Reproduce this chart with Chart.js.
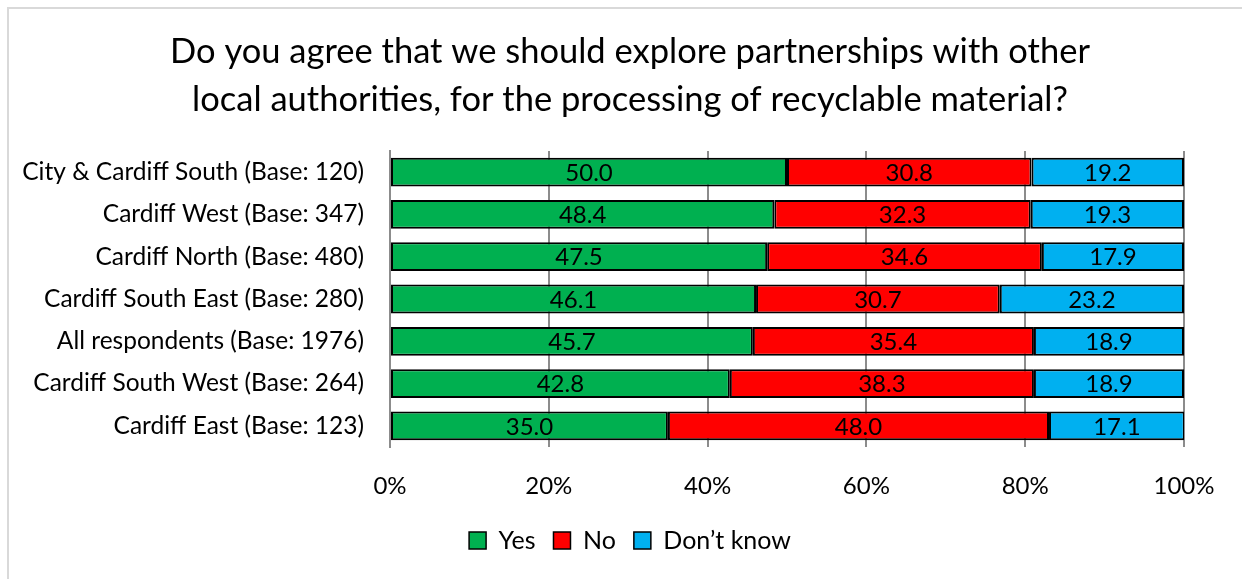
<!DOCTYPE html>
<html>
<head>
<meta charset="utf-8">
<script src="https://cdn.jsdelivr.net/npm/chart.js@4"></script>
<style>
    html, body { margin: 0; padding: 0; background: #fff; }
    #wrap { position: relative; width: 1242px; height: 579px; }
    #frame { position: absolute; left: 7px; top: 7px; right: -10px; bottom: -10px;
             border-left: 2px solid #d9d9d9; border-top: 2px solid #d9d9d9; }
    canvas { position: absolute; left: 0; top: 0; }
</style>
</head>
<body>
<div id="wrap">
    <div id="frame"></div>
    <canvas id="chart" width="1242" height="579"></canvas>
</div>
<script>
// 데이터
const categories = [
    'City & Cardiff South (Base: 120)',
    'Cardiff West (Base: 347)',
    'Cardiff North (Base: 480)',
    'Cardiff South East (Base: 280)',
    'All respondents (Base: 1976)',
    'Cardiff South West (Base: 264)',
    'Cardiff East (Base: 123)'
];
const yesValues = [50.0, 48.4, 47.5, 46.1, 45.7, 42.8, 35.0];
const noValues = [30.8, 32.3, 34.6, 30.7, 35.4, 38.3, 48.0];
const dontKnowValues = [19.2, 19.3, 17.9, 23.2, 18.9, 18.9, 17.1];
const seriesNames = ['Yes', 'No', 'Don\u2019t know'];
const xTicks = [0, 20, 40, 60, 80, 100];

const FONT = 'Lato, "Open Sans", sans-serif';

// 막대 안 값 표시
const barLabels = {
    id: 'barLabels',
    afterDatasetsDraw(chart) {
        const ctx = chart.ctx;
        ctx.save();
        ctx.font = '24px ' + FONT;
        ctx.fillStyle = '#000';
        ctx.textAlign = 'center';
        ctx.textBaseline = 'middle';
        chart.data.datasets.forEach((ds, i) => {
            chart.getDatasetMeta(i).data.forEach((bar, j) => {
                const cx = (bar.x + bar.base) / 2;
                ctx.fillText(ds.data[j].toFixed(1), cx, bar.y + 1);
            });
        });
        ctx.restore();
    }
};

new Chart(document.getElementById('chart').getContext('2d'), {
    type: 'bar',
    data: {
        labels: categories,
        datasets: [
            { label: seriesNames[0], data: yesValues, backgroundColor: '#00b050' },
            { label: seriesNames[1], data: noValues, backgroundColor: '#ff0000' },
            { label: seriesNames[2], data: dontKnowValues, backgroundColor: '#00b0f0' }
        ].map(d => Object.assign(d, {
            borderColor: '#000',
            borderWidth: 2,
            borderSkipped: false,
            barPercentage: 1,
            categoryPercentage: 0.68
        }))
    },
    options: {
        indexAxis: 'y',
        responsive: false,
        animation: false,
        layout: { padding: { top: 18, left: 20, right: 2, bottom: 16 } },
        plugins: {
            title: {
                display: true,
                text: ['Do you agree that we should explore partnerships with other',
                       'local authorities, for the processing of recyclable material?'],
                color: '#000',
                font: { family: FONT, size: 34.5, weight: 'normal', lineHeight: '48px' },
                padding: { top: 10, bottom: 27 }
            },
            legend: {
                position: 'bottom',
                labels: {
                    color: '#000',
                    font: { family: FONT, size: 25 },
                    boxWidth: 17,
                    boxHeight: 17,
                    padding: 18,
                    generateLabels(chart) {
                        return chart.data.datasets.map((ds, i) => ({
                            text: ds.label,
                            fillStyle: ds.backgroundColor,
                            strokeStyle: '#000',
                            lineWidth: 1.5,
                            fontColor: '#000',
                            datasetIndex: i
                        }));
                    }
                }
            },
            tooltip: { enabled: false }
        },
        scales: {
            x: {
                stacked: true,
                min: 0,
                max: 100,
                afterBuildTicks(scale) {
                    scale.ticks = xTicks.map(v => ({ value: v }));
                },
                ticks: {
                    color: '#000',
                    font: { family: FONT, size: 24 },
                    padding: 25,
                    callback: v => v + '%'
                },
                grid: { color: '#8c8c8c', lineWidth: 2, drawTicks: false },
                border: { display: false },
                afterFit(scale) {
                    scale.height = 63;
                    scale.paddingRight = 58;
                }
            },
            y: {
                stacked: true,
                ticks: {
                    color: '#000',
                    font: { family: FONT, size: 24.5 },
                    padding: 26
                },
                grid: { display: false, drawTicks: false },
                border: { display: true, color: '#8c8c8c', width: 2 },
                afterFit(scale) { scale.width = 370; }
            }
        }
    },
    plugins: [barLabels]
});
</script>
</body>
</html>
